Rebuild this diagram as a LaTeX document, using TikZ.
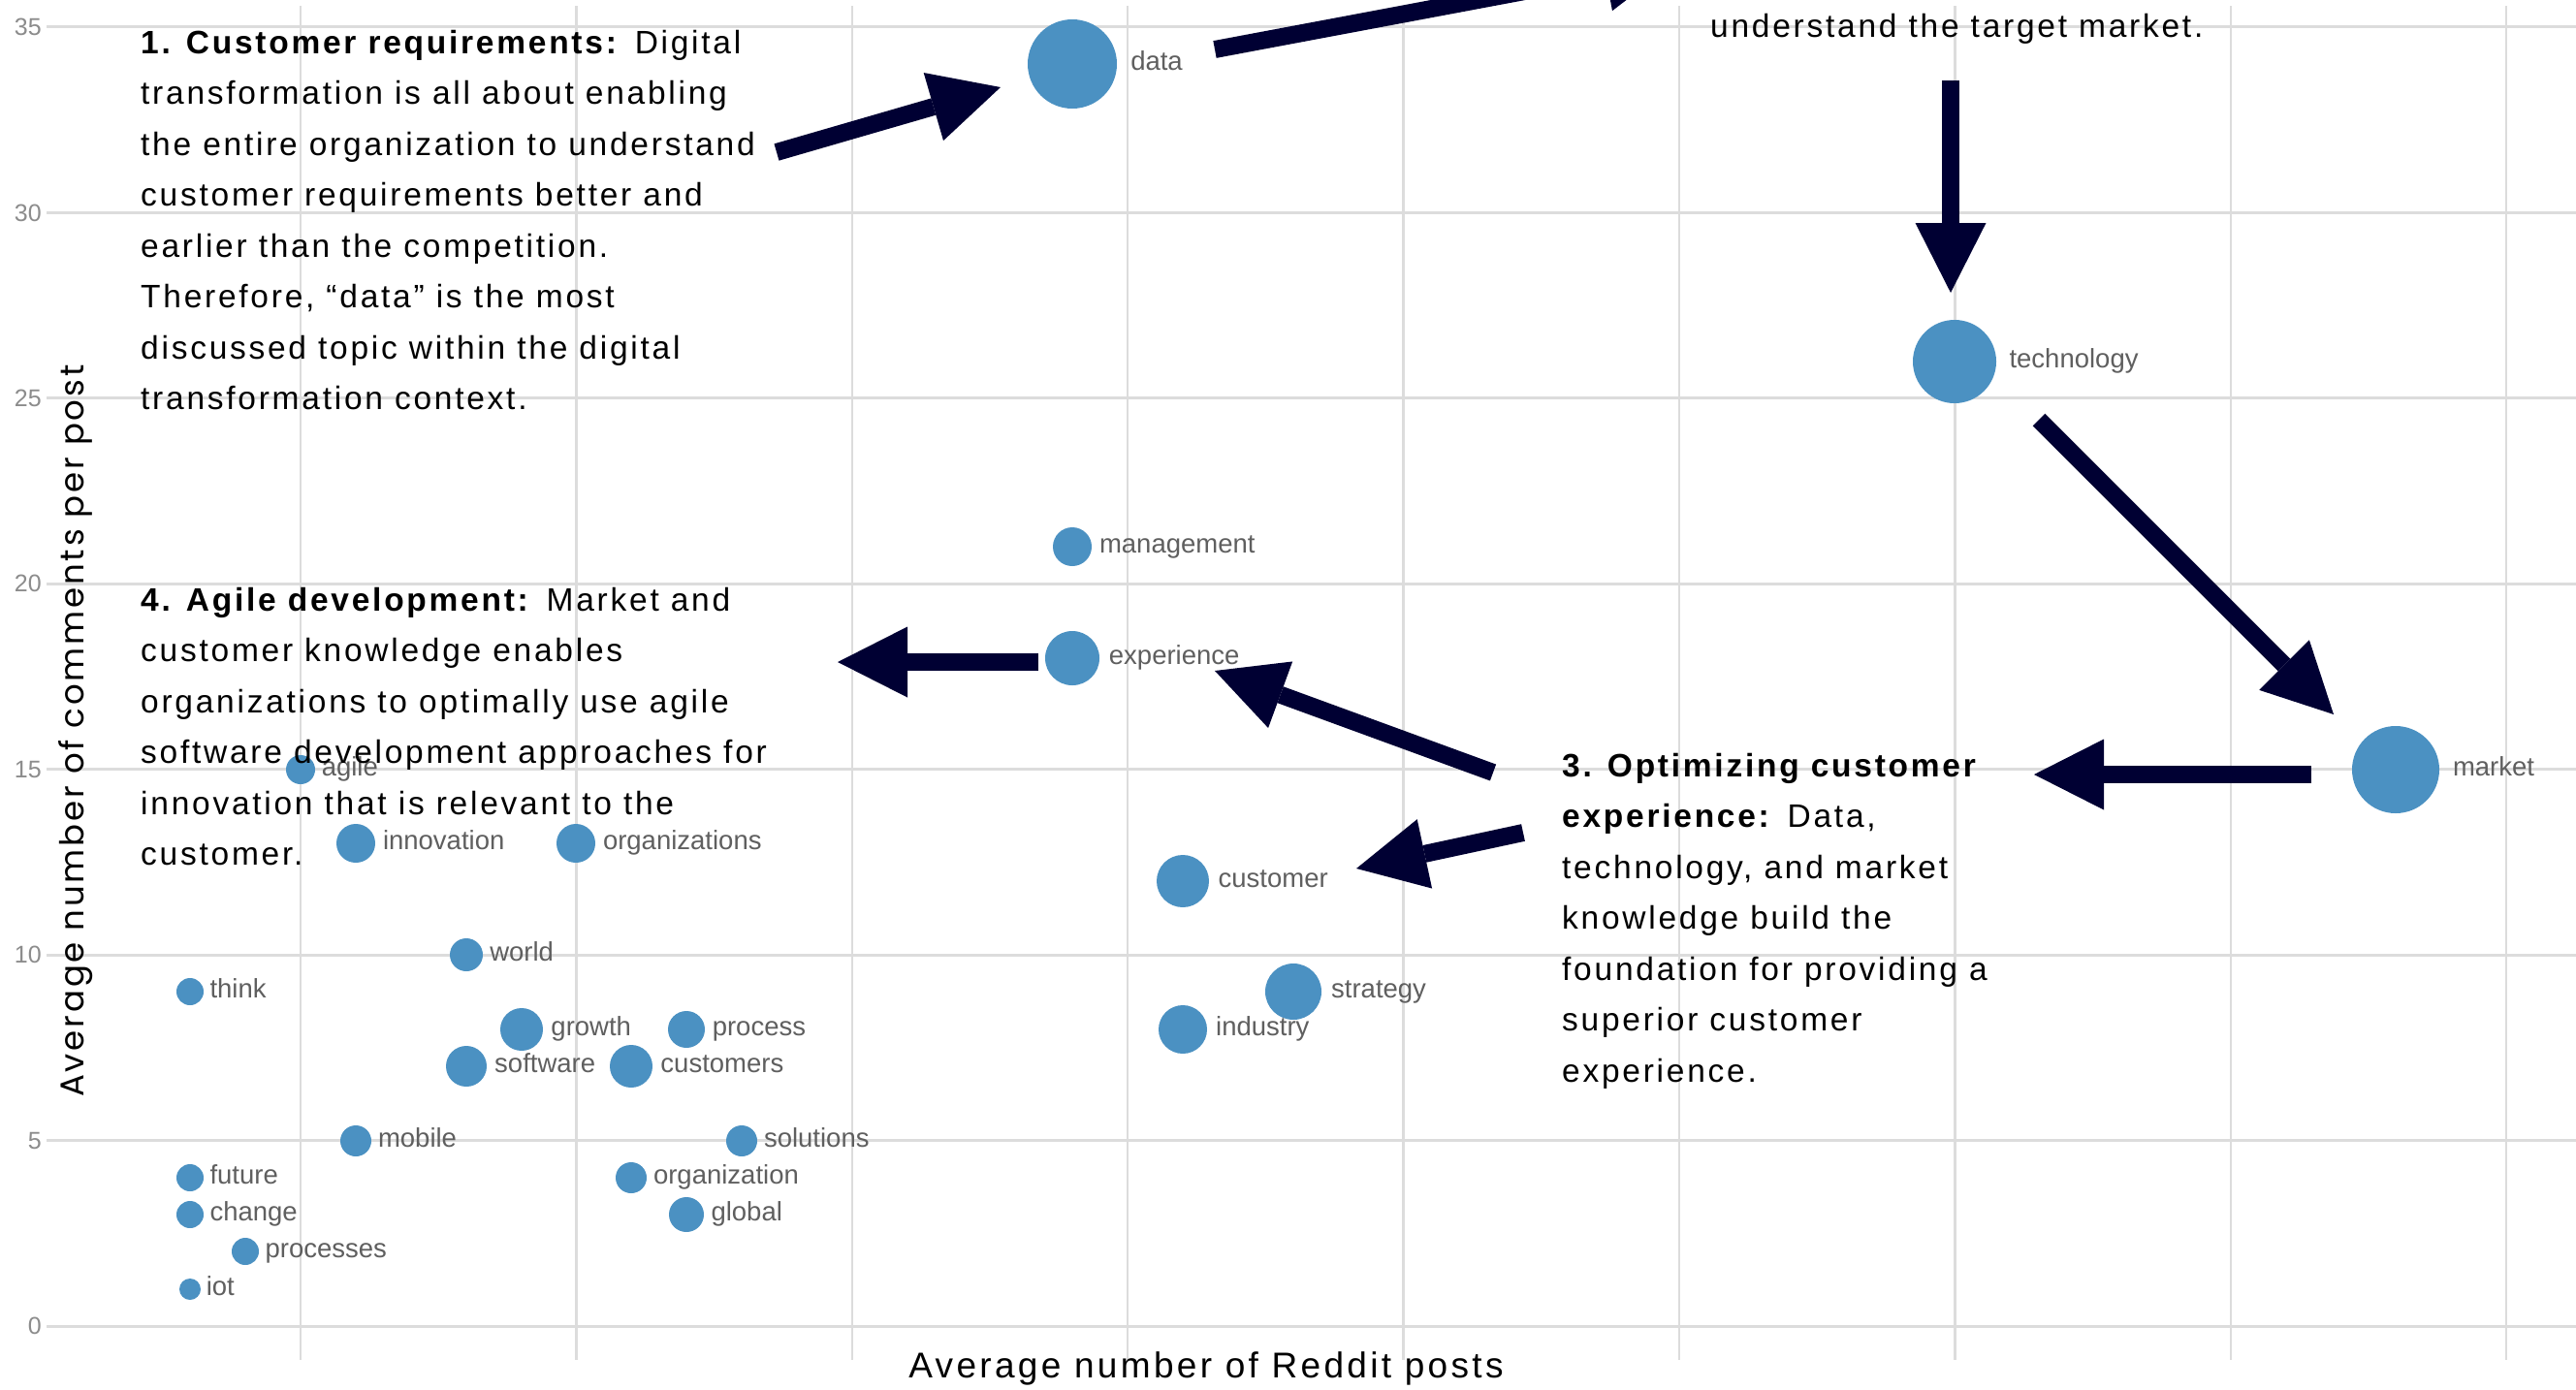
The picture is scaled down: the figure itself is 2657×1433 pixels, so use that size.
\documentclass[tikz,border=0pt]{standalone}
\usepackage{fontspec}
\setmainfont{Liberation Sans}
\newfontfamily\annotfont[LetterSpace=8.2]{Liberation Sans}
\newfontfamily\xtitlefont[LetterSpace=9]{Liberation Sans}
\newfontfamily\ytitlefont[LetterSpace=8.3]{Poppins}
\newfontfamily\labelfont{Liberation Sans}
\usetikzlibrary{arrows.meta}
\definecolor{bubble}{RGB}{75,145,194}
\definecolor{navy}{RGB}{0,0,51}
\definecolor{gridc}{RGB}{220,220,220}
\definecolor{lblc}{RGB}{95,95,95}
\definecolor{tickc}{RGB}{140,140,140}
\begin{document}
\begin{tikzpicture}[x=1pt,y=-1pt,
  bub/.style={circle,fill=bubble,inner sep=0pt,minimum size=#1},
  lbl/.style={anchor=mid west,inner sep=0pt,text=lblc,font=\labelfont\fontsize{27.5}{30}\selectfont},
  tick/.style={anchor=east,inner sep=0pt,text=tickc,font=\labelfont\fontsize{25}{28}\selectfont},
  annot/.style={anchor=base west,inner sep=0pt,text=black,font=\annotfont\fontsize{33.5}{40}\selectfont},
  bigarrow/.style={draw=navy,line width=18pt,-{Triangle[length=72pt,width=73pt,line width=0pt]}},
  hgrid/.style={draw=gridc,line width=3pt},
  vgrid/.style={draw=gridc,line width=2.5pt}]
\useasboundingbox (0,0) rectangle (2657,1433);
\fill[white] (0,0) rectangle (2657,1433);
% grid
\foreach \v in {0,5,...,35} {
  \draw[hgrid] (48,{1368-38.286*\v}) -- (2657,{1368-38.286*\v});
  \node[tick] (tick\v) at (43,{1368-38.286*\v}) {\v};
}
\foreach \k in {0,...,8}
  \draw[vgrid] ({310+284.4*\k},6) -- ({310+284.4*\k},1403);
% bubbles
\foreach \n/\x/\y/\r in {data/1106/66/46, technology/2016/373/43, market/2471/794/45,
  management/1106/564/20, experience/1106/679/28, agile/310/794/15,
  innovation/367/870/20, organizations/594/870/20, customer/1220/909/27,
  world/481/985/17, think/196/1023/14, strategy/1334/1023/29,
  growth/538/1062/22, process/708/1062/19, industry/1220/1062/25,
  software/481/1100/21, customers/651/1100/22, mobile/367/1177/16,
  solutions/765/1177/16, future/196/1215/14, organization/651/1215/16,
  change/196/1253/14, global/708/1253/18, processes/253/1291/14, iot/196/1330/11}
  \node[bub=\r*2pt] (\n) at (\x,\y) {};
\foreach \n/\x/\y/\r in {data/1106/66/46, technology/2016/373/43, market/2471/794/45,
  management/1106/564/20, experience/1106/679/28, agile/310/794/15,
  innovation/367/870/20, organizations/594/870/20, customer/1220/909/27,
  world/481/985/17, think/196/1023/14, strategy/1334/1023/29,
  growth/538/1062/22, process/708/1062/19, industry/1220/1062/25,
  software/481/1100/21, customers/651/1100/22, mobile/367/1177/16,
  solutions/765/1177/16, future/196/1215/14, organization/651/1215/16,
  change/196/1253/14, global/708/1253/18, processes/253/1291/14, iot/196/1330/11}
  \node[lbl] (lbl-\n) at ({\x+1.24*\r+3},{\y+4}) {\n};
% annotations
\foreach \t [count=\i from 0] in {
  {\textbf{1. Customer requirements:} Digital},
  {transformation is all about enabling},
  {the entire organization to understand},
  {customer requirements better and},
  {earlier than the competition.},
  {Therefore, “data” is the most},
  {discussed topic within the digital},
  {transformation context.}}
  \node[annot] (b1-\i) at (145,{55+52.5*\i}) {\t};
\node[annot] (b2) at (1764,38) {understand the target market.};
\foreach \t [count=\i from 0] in {
  {\textbf{3. Optimizing customer}},
  {\textbf{experience:} Data,},
  {technology, and market},
  {knowledge build the},
  {foundation for providing a},
  {superior customer},
  {experience.}}
  \node[annot] (b3-\i) at (1611,{801+52.5*\i}) {\t};
\foreach \t [count=\i from 0] in {
  {\textbf{4. Agile development:} Market and},
  {customer knowledge enables},
  {organizations to optimally use agile},
  {software development approaches for},
  {innovation that is relevant to the},
  {customer.}}
  \node[annot] (b4-\i) at (145,{630+52.5*\i}) {\t};
% arrows
\coordinate (a1s) at (801,157);  \coordinate (a1e) at (1032,90);
\coordinate (a2s) at (1253,51);  \coordinate (a2e) at (1727,-38);
\coordinate (a3s) at (2012,83);  \coordinate (a3e) at (2012,302);
\coordinate (a4s) at (2103,433); \coordinate (a4e) at (2407,737);
\coordinate (a5s) at (2384,799); \coordinate (a5e) at (2098,799);
\coordinate (a6s) at (1540,797); \coordinate (a6e) at (1253,692);
\coordinate (a7s) at (1571,859); \coordinate (a7e) at (1399,896);
\coordinate (a8s) at (1071,683); \coordinate (a8e) at (864,683);
\begin{scope}
  \clip (0,0) rectangle (2657,1433);
  \draw[bigarrow] (a2s) -- (a2e);
\end{scope}
\draw[bigarrow] (a1s) -- (a1e);
\draw[bigarrow] (a3s) -- (a3e);
\draw[bigarrow] (a4s) -- (a4e);
\draw[bigarrow] (a5s) -- (a5e);
\draw[bigarrow] (a6s) -- (a6e);
\draw[bigarrow] (a7s) -- (a7e);
\draw[bigarrow] (a8s) -- (a8e);
% axis titles
\node[anchor=base,inner sep=0pt,font=\xtitlefont\fontsize{37}{40}\selectfont] (xtitle) at (1244,1421) {Average number of Reddit posts};
\node[anchor=base west,rotate=90,inner sep=0pt,font=\ytitlefont\fontsize{34}{40}\selectfont] (ytitle) at (86,1132) {Average number of comments per post};
\end{tikzpicture}
\end{document}
